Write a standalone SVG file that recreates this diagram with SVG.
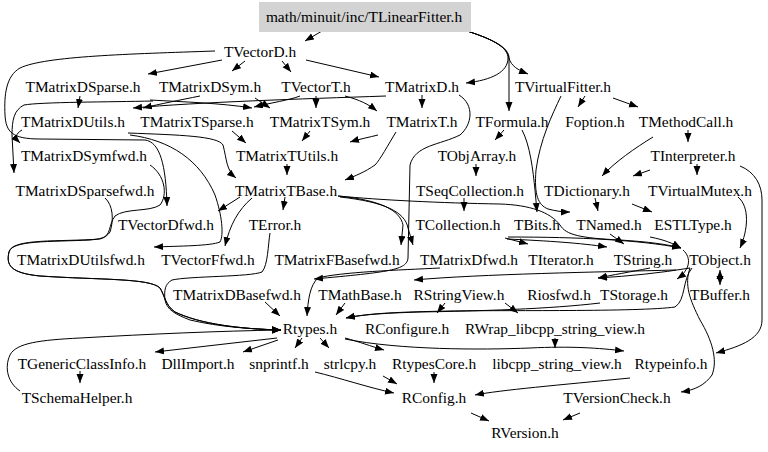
<svg xmlns="http://www.w3.org/2000/svg" width="768" height="452" viewBox="0 0 768 452">
<defs>
<marker id="a" markerWidth="10" markerHeight="8" refX="9" refY="3.5" orient="auto" markerUnits="userSpaceOnUse"><path d="M0,0 L9,3.5 L0,7 z" fill="#000"/></marker>
<marker id="s" markerWidth="10" markerHeight="8" refX="0" refY="3.5" orient="auto" markerUnits="userSpaceOnUse"><path d="M9,0 L0,3.5 L9,7 z" fill="#000"/></marker>
<style>
text{font-family:"Liberation Serif","Times New Roman",serif;font-size:15.4px;text-anchor:middle;fill:#000}
#edges path{fill:none;stroke:#000;stroke-width:1;marker-end:url(#a)}
</style>
</defs>
<rect width="768" height="452" fill="#fff"/>
<g id="edges">
<path d="M322,31 L305,41"/>
<path d="M467,31 C495,40 508,48 508,58 C508,72 492,80 466,83"/>
<path d="M467,31 C495,40 509,48 509,60 L509,111"/>
<path d="M467,31 C495,40 509,48 509,58 C511,66 518,70 528,74"/>
<path d="M222,60 L148,74"/>
<path d="M245,61 L232,71"/>
<path d="M282,61 L291,72"/>
<path d="M306,60 L379,77"/>
<path d="M215,51 C130,54 45,56 20,68 C6,76 4,95 5,115 C6,132 12,139 40,139 L145,140 C160,142 166,165 167,206"/>
<path d="M80,96 L78,108"/>
<path d="M200,96 C180,100 160,104 143,108"/>
<path d="M386,96 C300,99 200,102 133,108"/>
<path d="M153,101 C110,102 40,102 24,105 C14,110 12,120 12,135 L14,173"/>
<path d="M150,100 C185,102 220,103 252,108"/>
<path d="M255,98 L270,108"/>
<path d="M300,96 C290,100 270,103 254,107"/>
<path d="M316,96 L316,108"/>
<path d="M345,96 C360,100 368,104 377,111"/>
<path d="M422,95 L422,108"/>
<path d="M128,133 C180,135 218,136 223,145 C227,160 226,170 236,178"/>
<path d="M130,135 C170,140 200,160 215,195 C222,215 224,235 220,242 C210,246 180,246 154,247"/>
<path d="M22,130 C15,134 15,138 20,143"/>
<path d="M232,131 L246,143"/>
<path d="M310,131 L302,141"/>
<path d="M378,135 C370,137 360,139 350,142"/>
<path d="M396,132 C388,145 380,160 375,165 C365,172 355,176 345,180"/>
<path d="M287,164 L287,175"/>
<path d="M459,95 C475,105 472,125 460,135 C440,145 415,145 410,165 L408,258 C407,270 390,272 314,279"/>
<path d="M585,96 L578,107"/>
<path d="M613,98 L638,107"/>
<path d="M561,96 C552,115 540,140 536,170 C534,195 538,205 548,209 C556,211 562,212 570,212"/>
<path d="M504,130 L495,140"/>
<path d="M522,130 C530,145 533,170 535,190 L537,212"/>
<path d="M688,130 L688,142"/>
<path d="M653,137 C635,148 615,162 602,176"/>
<path d="M650,170 L633,176"/>
<path d="M697,164 L697,175"/>
<path d="M740,166 C755,172 762,185 762,200 L762,320 C762,338 742,346 716,353"/>
<path d="M476,164 L476,176"/>
<path d="M464,198 L464,211"/>
<path d="M595,198 L598,211"/>
<path d="M632,204 L652,212"/>
<path d="M738,197 C750,207 748,230 740,248"/>
<path d="M338,196 C380,200 440,203 500,204 C530,205 550,212 560,225 C566,235 580,238 620,240 C650,242 665,244 681,248"/>
<path d="M505,238 L528,244"/>
<path d="M507,239 C550,241 580,243 607,247"/>
<path d="M508,237 C580,237 640,240 681,248"/>
<path d="M650,237 C665,240 672,243 681,248"/>
<path d="M610,234 L624,244"/>
<path d="M683,250 C692,258 690,270 677,279"/>
<path d="M690,268 C660,273 630,276 598,278"/>
<path d="M650,268 C630,272 612,275 598,278"/>
<path d="M676,270 C600,272 480,274 414,280"/>
<path d="M720,270 L720,285" marker-start="url(#s)"/>
<path d="M692,268 C682,280 686,300 675,307 C640,312 500,310 450,311 C400,312 370,313 346,318"/>
<path d="M690,268 C684,285 690,300 700,320 C712,340 718,360 712,375 C705,385 695,390 681,392"/>
<path d="M600,303 C550,309 480,311 420,312 C390,313 365,314 346,318"/>
<path d="M445,303 L437,313"/>
<path d="M505,303 L518,313"/>
<path d="M345,303 L336,315"/>
<path d="M265,302 L280,316"/>
<path d="M440,268 C400,270 340,272 318,278 C310,285 308,300 307,316"/>
<path d="M150,165 C165,175 168,195 160,205 C150,212 125,208 115,216 C108,225 112,236 100,239 C60,242 12,238 9,252 C6,265 10,273 40,276 C100,280 150,278 160,288 C165,296 165,305 175,312 C200,324 240,329 281,330"/>
<path d="M105,198 C113,205 114,220 110,232 C106,238 100,239 90,240 C50,242 12,240 9,252 C6,265 10,273 40,276 C100,280 150,278 160,288 C165,296 165,305 175,312 C200,324 240,329 281,330"/>
<path d="M270,233 C268,245 268,265 262,272 C250,277 190,276 172,280 C165,284 164,290 165,300 C167,310 175,314 190,320 C220,327 250,329 281,330"/>
<path d="M20,391 C8,383 4,368 10,355 C16,343 40,340 80,338 C150,334 220,331 281,330"/>
<path d="M277,338 L155,352"/>
<path d="M278,340 L243,352"/>
<path d="M302,338 L295,348"/>
<path d="M320,338 L329,348"/>
<path d="M345,338 C360,342 370,346 384,350"/>
<path d="M345,339 C400,350 480,350 530,348 C570,346 600,348 624,351"/>
<path d="M555,338 L555,348"/>
<path d="M80,371 L80,383"/>
<path d="M315,372 C340,378 370,388 394,393"/>
<path d="M383,376 L397,384"/>
<path d="M434,372 L434,383"/>
<path d="M630,378 C560,385 500,390 475,395"/>
<path d="M471,413 L489,421"/>
<path d="M580,413 L563,420"/>
<path d="M338,196 C380,200 400,210 403,225 L401,245"/>
<path d="M340,197 C385,202 405,212 408,228 L413,245"/>
<path d="M240,197 L218,211"/>
<path d="M252,198 C238,210 230,225 225,246"/>
<path d="M285,197 L283,210"/>
</g>
<g id="n_top"><rect x="259" y="2" width="212" height="30" fill="#d3d3d3"/><text x="364" y="22">math/minuit/inc/TLinearFitter.h</text></g>
<g id="n_TVectorD"><text x="260" y="57">TVectorD.h</text></g>
<g id="n_TMatrixDSparse"><text x="83" y="92">TMatrixDSparse.h</text></g>
<g id="n_TMatrixDSym"><text x="210" y="92">TMatrixDSym.h</text></g>
<g id="n_TVectorT"><text x="316" y="92">TVectorT.h</text></g>
<g id="n_TMatrixD"><text x="422" y="92">TMatrixD.h</text></g>
<g id="n_TVirtualFitter"><text x="563" y="92">TVirtualFitter.h</text></g>
<g id="n_TMatrixDUtils"><text x="73" y="127">TMatrixDUtils.h</text></g>
<g id="n_TMatrixTSparse"><text x="197" y="127">TMatrixTSparse.h</text></g>
<g id="n_TMatrixTSym"><text x="320" y="127">TMatrixTSym.h</text></g>
<g id="n_TMatrixT"><text x="422" y="127">TMatrixT.h</text></g>
<g id="n_TFormula"><text x="512" y="127">TFormula.h</text></g>
<g id="n_Foption"><text x="595" y="127">Foption.h</text></g>
<g id="n_TMethodCall"><text x="686" y="127">TMethodCall.h</text></g>
<g id="n_TMatrixDSymfwd"><text x="84" y="161">TMatrixDSymfwd.h</text></g>
<g id="n_TMatrixTUtils"><text x="287" y="161">TMatrixTUtils.h</text></g>
<g id="n_TObjArray"><text x="477" y="161">TObjArray.h</text></g>
<g id="n_TInterpreter"><text x="693" y="161">TInterpreter.h</text></g>
<g id="n_TMatrixDSparsefwd"><text x="85" y="196">TMatrixDSparsefwd.h</text></g>
<g id="n_TMatrixTBase"><text x="286" y="196">TMatrixTBase.h</text></g>
<g id="n_TSeqCollection"><text x="470" y="196">TSeqCollection.h</text></g>
<g id="n_TDictionary"><text x="587" y="196">TDictionary.h</text></g>
<g id="n_TVirtualMutex"><text x="700" y="196">TVirtualMutex.h</text></g>
<g id="n_TVectorDfwd"><text x="166" y="230">TVectorDfwd.h</text></g>
<g id="n_TError"><text x="275" y="230">TError.h</text></g>
<g id="n_TCollection"><text x="458" y="230">TCollection.h</text></g>
<g id="n_TBits"><text x="537" y="230">TBits.h</text></g>
<g id="n_TNamed"><text x="609" y="230">TNamed.h</text></g>
<g id="n_ESTLType"><text x="693" y="230">ESTLType.h</text></g>
<g id="n_TMatrixDUtilsfwd"><text x="81" y="265">TMatrixDUtilsfwd.h</text></g>
<g id="n_TVectorFfwd"><text x="208" y="265">TVectorFfwd.h</text></g>
<g id="n_TMatrixFBasefwd"><text x="337" y="265">TMatrixFBasefwd.h</text></g>
<g id="n_TMatrixDfwd"><text x="469" y="265">TMatrixDfwd.h</text></g>
<g id="n_TIterator"><text x="561" y="265">TIterator.h</text></g>
<g id="n_TString"><text x="643" y="265">TString.h</text></g>
<g id="n_TObject"><text x="720" y="265">TObject.h</text></g>
<g id="n_TMatrixDBasefwd"><text x="237" y="300">TMatrixDBasefwd.h</text></g>
<g id="n_TMathBase"><text x="360" y="300">TMathBase.h</text></g>
<g id="n_RStringView"><text x="459" y="300">RStringView.h</text></g>
<g id="n_Riosfwd"><text x="559" y="300">Riosfwd.h</text></g>
<g id="n_TStorage"><text x="634" y="300">TStorage.h</text></g>
<g id="n_TBuffer"><text x="720" y="300">TBuffer.h</text></g>
<g id="n_Rtypes"><text x="310" y="334">Rtypes.h</text></g>
<g id="n_RConfigure"><text x="407" y="334">RConfigure.h</text></g>
<g id="n_RWrap"><text x="555" y="334">RWrap_libcpp_string_view.h</text></g>
<g id="n_TGenericClassInfo"><text x="82" y="369">TGenericClassInfo.h</text></g>
<g id="n_DllImport"><text x="198" y="369">DllImport.h</text></g>
<g id="n_snprintf"><text x="279" y="369">snprintf.h</text></g>
<g id="n_strlcpy"><text x="350" y="369">strlcpy.h</text></g>
<g id="n_RtypesCore"><text x="434" y="369">RtypesCore.h</text></g>
<g id="n_libcpp"><text x="557" y="369">libcpp_string_view.h</text></g>
<g id="n_Rtypeinfo"><text x="671" y="369">Rtypeinfo.h</text></g>
<g id="n_TSchemaHelper"><text x="77" y="403">TSchemaHelper.h</text></g>
<g id="n_RConfig"><text x="434" y="403">RConfig.h</text></g>
<g id="n_TVersionCheck"><text x="617" y="403">TVersionCheck.h</text></g>
<g id="n_RVersion"><text x="525" y="438">RVersion.h</text></g>
</svg>
